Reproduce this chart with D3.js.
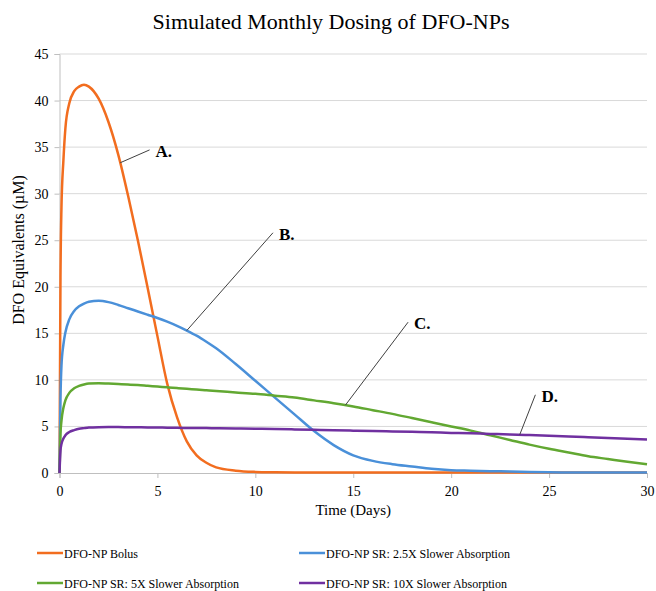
<!DOCTYPE html>
<html>
<head>
<meta charset="utf-8">
<script src="https://cdn.jsdelivr.net/npm/d3@7"></script>
<style>
  body { margin: 0; background: #fff; }
  svg { display: block; }
  svg text { fill: #000; }
</style>
</head>
<body>
<svg id="chart" width="656" height="591"></svg>
<script>
// Sampling times (days)
const days = [0, 0.05, 0.1, 0.2, 0.3, 0.5, 0.75, 1, 1.25, 1.5, 2, 2.5, 3, 3.5, 4, 4.5, 5, 5.5, 6, 6.5, 7, 7.5, 8, 9, 10, 11, 12, 13, 14, 15, 16, 17, 18, 19, 20, 21, 22, 23, 24, 25, 26, 27, 28, 29, 30];

// DFO equivalents (µM) for each formulation
const bolus = [0, 21, 28.5, 33.6, 37, 39.7, 41.0, 41.5, 41.7, 41.5, 40.2, 37.7, 34.2, 29.8, 25.0, 19.9, 14.7, 9.6, 6.0, 3.4, 1.9, 1.1, 0.6, 0.25, 0.12, 0.08, 0.06, 0.05, 0.05, 0.05, 0.05, 0.05, 0.05, 0.05, 0.05, 0.05, 0.05, 0.05, 0.05, 0.05, 0.05, 0.05, 0.05, 0.05, 0.05];
const sr25 = [0, 8, 11.5, 13.8, 15.1, 16.5, 17.4, 17.9, 18.2, 18.4, 18.5, 18.35, 18.05, 17.7, 17.35, 17.0, 16.65, 16.25, 15.8, 15.3, 14.75, 14.1, 13.4, 11.7, 9.9, 8.1, 6.3, 4.5, 3.0, 1.9, 1.3, 0.95, 0.7, 0.45, 0.3, 0.25, 0.2, 0.15, 0.1, 0.07, 0.06, 0.05, 0.05, 0.05, 0.05];
const sr5 = [0, 4.2, 5.6, 7.0, 7.8, 8.6, 9.1, 9.35, 9.5, 9.6, 9.65, 9.6, 9.55, 9.5, 9.44, 9.36, 9.28, 9.2, 9.12, 9.04, 8.96, 8.88, 8.8, 8.65, 8.5, 8.3, 8.1, 7.8, 7.5, 7.15, 6.75, 6.35, 5.9, 5.45, 5.0, 4.55, 4.05, 3.55, 3.05, 2.6, 2.2, 1.8, 1.5, 1.2, 0.93];
const sr10 = [0, 2.4, 3.1, 3.7, 4.05, 4.4, 4.6, 4.75, 4.82, 4.88, 4.92, 4.93, 4.93, 4.92, 4.91, 4.9, 4.88, 4.87, 4.85, 4.84, 4.83, 4.82, 4.8, 4.78, 4.75, 4.72, 4.68, 4.64, 4.6, 4.55, 4.5, 4.46, 4.42, 4.37, 4.3, 4.26, 4.2, 4.14, 4.07, 4.0, 3.93, 3.85, 3.77, 3.69, 3.6];

const seriesNames = ["DFO-NP Bolus", "DFO-NP SR: 2.5X Slower Absorption", "DFO-NP SR: 5X Slower Absorption", "DFO-NP SR: 10X Slower Absorption"];
const seriesColors = ["#F26D1F", "#4A90D9", "#62A832", "#7030A0"];
const xTicks = [0, 5, 10, 15, 20, 25, 30];
const yTicks = [0, 5, 10, 15, 20, 25, 30, 35, 40, 45];

// Callout letters: label, day where the leader touches its curve, leader tip position
const calloutLabels = ["A.", "B.", "C.", "D."];
const calloutDays = [3.1, 6.5, 14.6, 23.5];
const calloutSeries = [0, 1, 2, 3];
const calloutTipDay = [4.6, 10.9, 17.8, 24.3];
const calloutTipVal = [34.7, 25.8, 16.2, 8.4];

const series = [bolus, sr25, sr5, sr10];
const serif = '"Liberation Serif", "Times New Roman", Times, "DejaVu Serif", serif';

const svg = d3.select("#chart");
const margin = { left: 59.5, right: 9, top: 54, bottom: 118 };
const W = 656, H = 591;

const x = d3.scaleLinear().domain([0, 30]).range([margin.left, W - margin.right]);
const y = d3.scaleLinear().domain([0, 45]).range([H - margin.bottom, margin.top]);

// Horizontal gridlines
svg.append("g")
  .selectAll("line")
  .data(yTicks.filter(d => d > 0))
  .join("line")
  .attr("x1", x(0)).attr("x2", x(30))
  .attr("y1", d => y(d)).attr("y2", d => y(d))
  .attr("stroke", "#d9d9d9").attr("stroke-width", 1);

// Axes
const yAxis = svg.append("g")
  .attr("transform", `translate(${x(0)},0)`)
  .call(d3.axisLeft(y).tickValues(yTicks).tickSize(5).tickPadding(6));
const xAxis = svg.append("g")
  .attr("transform", `translate(0,${y(0)})`)
  .call(d3.axisBottom(x).tickValues(xTicks).tickSize(5).tickPadding(8));

[yAxis, xAxis].forEach(g => {
  g.attr("font-family", serif);
  g.select(".domain").attr("stroke", "#bfbfbf");
  g.selectAll(".tick line").attr("stroke", "#bfbfbf");
  g.selectAll(".tick text")
    .attr("font-family", serif)
    .attr("font-size", 14).attr("fill", "#000");
});

// Series lines
const line = d3.line()
  .x((d, i) => x(days[i]))
  .y(d => y(d))
  .curve(d3.curveMonotoneX);

series.forEach((vals, k) => {
  svg.append("path")
    .datum(vals)
    .attr("fill", "none")
    .attr("stroke", seriesColors[k])
    .attr("stroke-width", 2.5)
    .attr("stroke-linejoin", "round")
    .attr("d", line);
});

// Callouts
const interp = (vals, t) => {
  const i = d3.bisectRight(days, t) - 1;
  const t0 = days[i], t1 = days[i + 1];
  return vals[i] + (vals[i + 1] - vals[i]) * (t - t0) / (t1 - t0);
};
calloutLabels.forEach((lab, k) => {
  const px = x(calloutDays[k]), py = y(interp(series[calloutSeries[k]], calloutDays[k]));
  const tx = x(calloutTipDay[k]), ty = y(calloutTipVal[k]);
  svg.append("line")
    .attr("x1", px).attr("y1", py).attr("x2", tx).attr("y2", ty)
    .attr("stroke", "#404040").attr("stroke-width", 1);
  svg.append("text")
    .attr("x", tx + 6).attr("y", ty + 7)
    .attr("font-family", serif)
    .attr("font-size", 17).attr("font-weight", "bold")
    .text(lab);
});

// Title
svg.append("text")
  .attr("x", 331).attr("y", 29)
  .attr("text-anchor", "middle")
  .attr("font-family", serif)
  .attr("font-size", 22)
  .text("Simulated Monthly Dosing of DFO-NPs");

// Axis titles
svg.append("text")
  .attr("transform", `translate(24,250) rotate(-90)`)
  .attr("text-anchor", "middle")
  .attr("font-family", serif)
  .attr("font-size", 16)
  .text("DFO Equivalents (µM)");
svg.append("text")
  .attr("x", (x(0) + x(30)) / 2).attr("y", 515)
  .attr("text-anchor", "middle")
  .attr("font-family", serif)
  .attr("font-size", 15)
  .text("Time (Days)");

// Legend
const legX = [37, 299], legY = [553, 583];
seriesNames.forEach((name, k) => {
  const lx = legX[k % 2], ly = legY[Math.floor(k / 2)];
  const g = svg.append("g").attr("transform", `translate(${lx},${ly})`);
  g.append("line").attr("x1", 0).attr("x2", 26).attr("y1", 0).attr("y2", 0)
    .attr("stroke", seriesColors[k]).attr("stroke-width", 2.5);
  g.append("text").attr("x", 27).attr("y", 5)
    .attr("font-family", serif)
    .attr("font-size", 12)
    .text(name);
});
</script>
</body>
</html>
